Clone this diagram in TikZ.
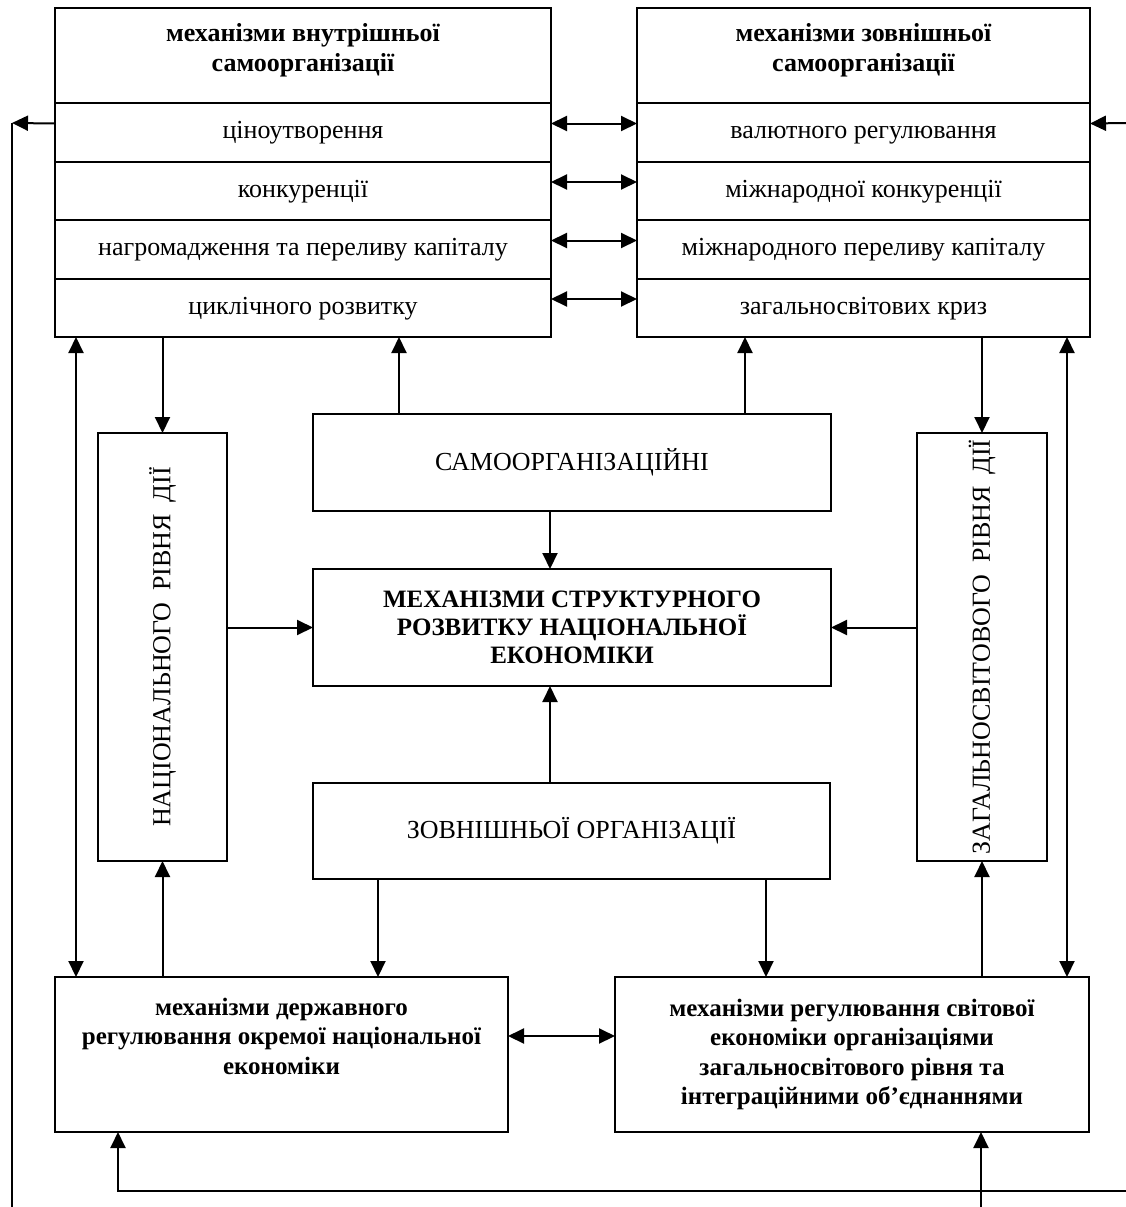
\documentclass[tikz,border=0pt]{standalone}
\usepackage{fontspec}
\setmainfont{Liberation Serif}
\usetikzlibrary{arrows.meta,calc}
\begin{document}
\begin{tikzpicture}[x=1pt,y=-1pt,
  box/.style={draw,line width=2.7pt,inner sep=0pt,outer sep=0pt,anchor=north west,align=center},
  txt/.style={inner sep=0pt,align=center,font=\fontsize{26}{30}\selectfont},
  rowtxt/.style={txt,text height=18pt,text depth=6pt},
  btxt/.style={inner sep=0pt,align=center,font=\fontsize{25}{29.5}\selectfont\bfseries},
  conn/.style={line width=2pt},
  >={Triangle[length=16pt,width=15pt]}]
\useasboundingbox[fill=white] (0,0) rectangle (1126,1207);
% top-left box
\node[box,minimum width=496pt,minimum height=95pt] (tl0) at (55,8) {};
\node[box,minimum width=496pt,minimum height=59pt,rowtxt] (tl1) at (55,103) {ціноутворення};
\node[box,minimum width=496pt,minimum height=58pt,rowtxt] (tl2) at (55,162) {конкуренції};
\node[box,minimum width=496pt,minimum height=59pt,rowtxt] (tl3) at (55,220) {нагромадження та переливу капіталу};
\node[box,minimum width=496pt,minimum height=58pt,rowtxt] (tl4) at (55,279) {циклічного розвитку};
\node[btxt,font=\fontsize{26}{30}\selectfont\bfseries] (tl0t) at ([yshift=5pt]tl0.center) {механізми внутрішньої\\самоорганізації};
% top-right box
\node[box,minimum width=453pt,minimum height=95pt] (tr0) at (637,8) {};
\node[box,minimum width=453pt,minimum height=59pt,rowtxt] (tr1) at (637,103) {валютного регулювання};
\node[box,minimum width=453pt,minimum height=58pt,rowtxt] (tr2) at (637,162) {міжнародної конкуренції};
\node[box,minimum width=453pt,minimum height=59pt,rowtxt] (tr3) at (637,220) {міжнародного переливу капіталу};
\node[box,minimum width=453pt,minimum height=58pt,rowtxt] (tr4) at (637,279) {загальносвітових криз};
\node[btxt,font=\fontsize{26}{30}\selectfont\bfseries] (tr0t) at ([yshift=5pt]tr0.center) {механізми зовнішньої\\самоорганізації};
% side vertical boxes
\node[box,minimum width=129pt,minimum height=428pt] (NR) at (98,433) {};
\node[txt,rotate=90] (NRt) at (NR.center) {НАЦІОНАЛЬНОГО\hspace{0.2em} РІВНЯ\hspace{0.2em} ДІЇ};
\node[box,minimum width=130pt,minimum height=428pt] (ZR) at (917,433) {};
\node[txt,rotate=90] (ZRt) at (ZR.center) {ЗАГАЛЬНОСВІТОВОГО\hspace{0.2em} РІВНЯ\hspace{0.2em} ДІЇ};
% central boxes
\node[box,minimum width=518pt,minimum height=97pt,txt] (SAMO) at (313,414) {САМООРГАНІЗАЦІЙНІ};
\node[box,minimum width=518pt,minimum height=117pt,btxt,font=\fontsize{25}{28}\selectfont\bfseries] (MS) at (313,569) {МЕХАНІЗМИ СТРУКТУРНОГО\\РОЗВИТКУ НАЦІОНАЛЬНОЇ\\ЕКОНОМІКИ};
\node[box,minimum width=517pt,minimum height=96pt,txt] (ZO) at (313,783) {ЗОВНІШНЬОЇ ОРГАНІЗАЦІЇ};
% bottom boxes
\node[box,minimum width=453pt,minimum height=155pt] (state) at (55,977) {};
\node[btxt] (statet) at ([yshift=18.5pt]state.center) {механізми державного\\регулювання окремої національної\\економіки};
\node[box,minimum width=474pt,minimum height=155pt,btxt] (world) at (615,977) {механізми регулювання світової\\економіки організаціями\\загальносвітового рівня та\\інтеграційними об’єднаннями};
% outer coordinates
\coordinate (L1) at (12,123);
\coordinate (L2) at (12,1207);
\coordinate (R1) at (1126,123);
\coordinate (B1) at (1126,1191);
\coordinate (B2) at (981,1207);
% horizontal double arrows between top boxes
\foreach \i in {1,2,3,4}{
  \draw[conn,<->] ([yshift=9pt]tl\i.east) -- ([yshift=9pt]tr\i.west);
}
% left outer line
\draw[conn,->] ([yshift=9pt]tl1.west) -- (L1);
\draw[conn] (L1) -- (L2);
% right outer arrow
\draw[conn,->] (R1) -- ([yshift=9pt]tr1.east);
% top-left box connections
\draw[conn,->] (NR.north |- tl4.south) -- (NR.north);
\draw[conn,<->] ([xshift=21pt]tl4.south west) -- ([xshift=21pt]state.north west);
\draw[conn,->] ([xshift=86pt]SAMO.north west) -- ([xshift=86pt]SAMO.north west |- tl4.south);
\draw[conn,->] ([xshift=-86pt]SAMO.north east) -- ([xshift=-86pt]SAMO.north east |- tr4.south);
% top-right box connections
\draw[conn,->] (ZR.north |- tr4.south) -- (ZR.north);
\draw[conn,<->] ([xshift=-23pt]tr4.south east) -- ([xshift=-22pt]world.north east);
% central
\draw[conn,->] ([xshift=237pt]SAMO.south west) -- ([xshift=237pt]MS.north west);
\draw[conn,->] ([xshift=237pt]ZO.north west) -- ([xshift=237pt]MS.south west);
\draw[conn,->] (NR.east |- MS.west) -- (MS.west);
\draw[conn,->] (ZR.west |- MS.east) -- (MS.east);
% bottom
\draw[conn,->] (NR.south |- state.north) -- (NR.south);
\draw[conn,->] ([xshift=65pt]ZO.south west) -- ([xshift=65pt]ZO.south west |- state.north);
\draw[conn,->] ([xshift=-64pt]ZO.south east) -- ([xshift=-64pt]ZO.south east |- world.north);
\draw[conn,->] (ZR.south |- world.north) -- (ZR.south);
\draw[conn,<->] ([yshift=18.5pt]state.east) -- ([yshift=18.5pt]state.east -| world.west);
\draw[conn,->] (B1) -| ([xshift=63pt]state.south west);
\draw[conn,->] (B2) -- (B2 |- world.south);
\end{tikzpicture}
\end{document}
